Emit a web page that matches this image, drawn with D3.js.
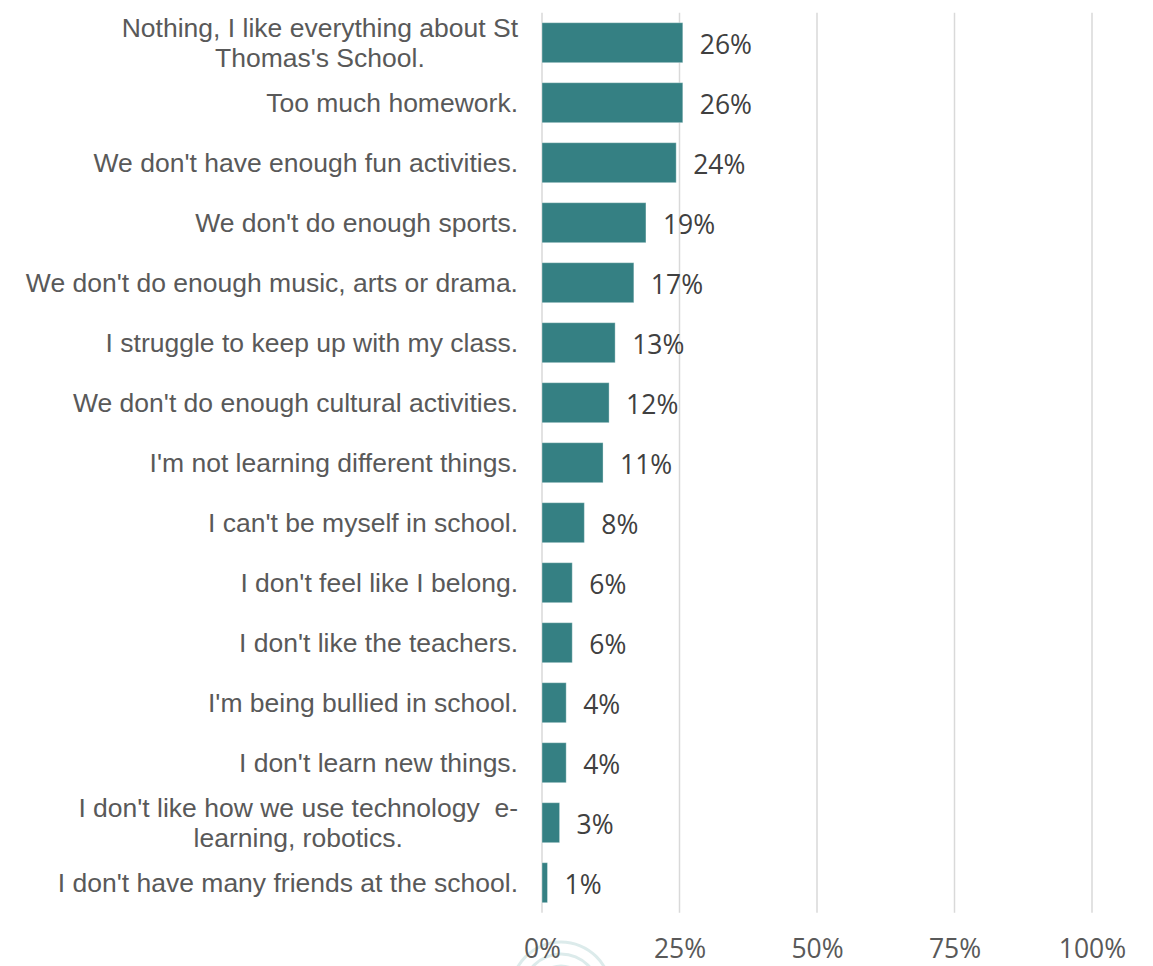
<!DOCTYPE html>
<html>
<head>
<meta charset="utf-8">
<script src="https://cdn.jsdelivr.net/npm/d3@7"></script>
<style>
  html, body { margin: 0; padding: 0; background: #ffffff; }
  svg { display: block; }
</style>
</head>
<body>
<svg id="chart" width="1153" height="966"></svg>
<script>
// Survey responses: what pupils would change about their school
const categories = [
  "Nothing, I like everything about St|Thomas's School.",
  "Too much homework.",
  "We don't have enough fun activities.",
  "We don't do enough sports.",
  "We don't do enough music, arts or drama.",
  "I struggle to keep up with my class.",
  "We don't do enough cultural activities.",
  "I'm not learning different things.",
  "I can't be myself in school.",
  "I don't feel like I belong.",
  "I don't like the teachers.",
  "I'm being bullied in school.",
  "I don't learn new things.",
  "I don't like how we use technology  e-|learning, robotics.",
  "I don't have many friends at the school."
];
const values = [25.6, 25.6, 24.4, 18.9, 16.7, 13.3, 12.2, 11.1, 7.7, 5.5, 5.5, 4.4, 4.4, 3.2, 1.0];
const tickValues = [0, 25, 50, 75, 100];

const data = categories.map((c, i) => ({ category: c, value: values[i] }));

const svg = d3.select("#chart");

const x = d3.scaleLinear().domain([0, 100]).range([542, 1092]);
const y = d3.scaleBand()
  .domain(categories)
  .range([12.7, 912.7])
  .paddingInner(1 / 3)
  .paddingOuter(1 / 6);

// faint logo arcs behind the axis labels
const logo = svg.append("g").attr("transform", "translate(561,992)");
[50, 38, 26].forEach(r => {
  logo.append("path")
    .attr("d", d3.arc()({ innerRadius: r - 1.5, outerRadius: r + 1.5, startAngle: -Math.PI / 2, endAngle: Math.PI / 2 }))
    .attr("fill", "#dcebeb");
});

// vertical gridlines
svg.append("g")
  .selectAll("line")
  .data(tickValues)
  .join("line")
  .attr("x1", d => x(d)).attr("x2", d => x(d))
  .attr("y1", y.range()[0]).attr("y2", y.range()[1])
  .attr("stroke", "#d9d9d9")
  .attr("stroke-width", 1.5);

// bars
svg.append("g")
  .selectAll("rect")
  .data(data)
  .join("rect")
  .attr("x", x(0))
  .attr("y", d => y(d.category))
  .attr("width", d => x(d.value) - x(0))
  .attr("height", y.bandwidth())
  .attr("fill", "#358083")
  .attr("stroke", "rgba(255,255,255,0.35)")
  .attr("stroke-width", 1);

// value labels
svg.append("g")
  .selectAll("text")
  .data(data)
  .join("text")
  .attr("x", d => x(d.value) + 17)
  .attr("y", d => y(d.category) + y.bandwidth() / 2 + 11.5)
  .attr("font-family", "'Open Sans', sans-serif")
  .attr("font-size", 26.5)
  .attr("fill", "#404040")
  .text(d => Math.round(d.value) + "%");

// category labels (multi-line labels are centred on their widest line)
const catG = svg.append("g")
  .attr("font-family", "'Liberation Sans', Arial, sans-serif")
  .attr("font-size", 26.5)
  .attr("fill", "#595959");
const labelRight = 518;
const lineGap = 29.5;
data.forEach(d => {
  const lines = d.category.split("|");
  const cy = y(d.category) + y.bandwidth() / 2;
  if (lines.length === 1) {
    catG.append("text")
      .attr("x", labelRight)
      .attr("y", cy + 9.3)
      .attr("text-anchor", "end")
      .text(lines[0]);
  } else {
    const t = catG.append("text").attr("text-anchor", "middle");
    lines.forEach((ln, i) => {
      t.append("tspan")
        .attr("y", cy + 9.3 + (i - (lines.length - 1) / 2) * lineGap)
        .attr("xml:space", "preserve")
        .style("white-space", "pre")
        .text(ln);
    });
    let maxW = 0;
    t.selectAll("tspan").each(function () { maxW = Math.max(maxW, this.getComputedTextLength()); });
    t.selectAll("tspan").attr("x", labelRight - maxW / 2);
  }
});

// x-axis tick labels
const axis = d3.axisBottom(x)
  .tickValues(tickValues)
  .tickFormat(d => d + "%")
  .tickSize(0)
  .tickPadding(0);
const axisG = svg.append("g")
  .attr("transform", "translate(0,940)")
  .call(axis);
axisG.select(".domain").remove();
axisG.selectAll("text")
  .attr("dy", null)
  .attr("y", 18)
  .attr("font-family", "'Open Sans', sans-serif")
  .attr("font-size", 26.5)
  .attr("fill", "#595959");
</script>
</body>
</html>
